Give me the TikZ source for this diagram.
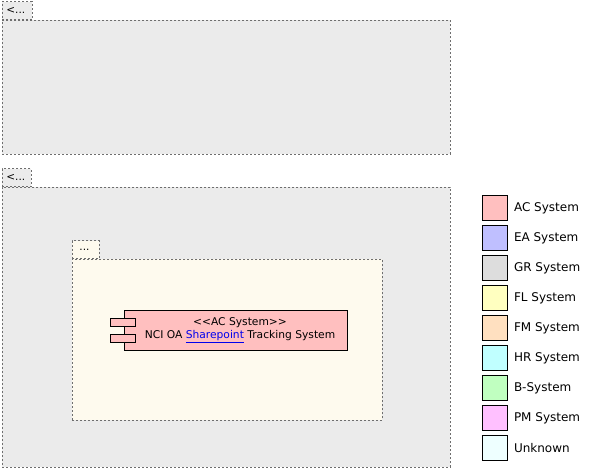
\documentclass[tikz,border=0pt]{standalone}
\usepackage{fontspec}
\setmainfont{DejaVu Sans}
\usepackage{xcolor}
\usepackage{tikz}
\usetikzlibrary{positioning,calc}

\definecolor{pkggray}{RGB}{235,235,235}
\definecolor{pkgcream}{RGB}{254,250,238}
\definecolor{dashgray}{RGB}{110,110,110}
\definecolor{acfill}{RGB}{255,191,191}
\definecolor{eafill}{RGB}{191,191,255}
\definecolor{grfill}{RGB}{221,221,221}
\definecolor{flfill}{RGB}{255,255,192}
\definecolor{fmfill}{RGB}{255,224,192}
\definecolor{hrfill}{RGB}{192,255,255}
\definecolor{bfill}{RGB}{192,255,192}
\definecolor{pmfill}{RGB}{255,192,255}
\definecolor{unkfill}{RGB}{238,255,255}
\definecolor{linkblue}{RGB}{0,0,238}

\begin{document}
\begin{tikzpicture}[x=1pt, y=-1pt,
    pkg/.style={draw=dashgray, dash pattern=on 2pt off 2pt, line width=0.9pt, fill=pkggray, anchor=north west, inner sep=0pt},
    pkgtab/.style={pkg, anchor=south west, minimum height=18pt, inner xsep=4pt, font=\fontsize{10.5}{12}\selectfont, text depth=0pt, align=left},
    compbox/.style={draw, line width=0.8pt, fill=acfill, minimum width=223pt, minimum height=40pt, inner sep=0pt},
    port/.style={draw, line width=0.8pt, fill=acfill, minimum width=25pt, minimum height=8pt, inner sep=0pt},
    legbox/.style={draw, line width=0.8pt, minimum width=25pt, minimum height=25pt, inner sep=0pt, anchor=north west},
    leglabel/.style={inner sep=0pt, font=\fontsize{12}{14}\selectfont}]

    \useasboundingbox (0,0) rectangle (593,471);

    % upper package
    \node[pkg, minimum width=448pt, minimum height=134pt] (pkgA) at (2,20) {};
    \node[pkgtab, minimum width=30pt, text width=22pt] (tabA) at (pkgA.north west) {<...};

    % lower package
    \node[pkg, minimum width=448pt, minimum height=280pt] (pkgB) at (2,187) {};
    \node[pkgtab, minimum width=29pt, text width=21pt] (tabB) at (pkgB.north west) {<...};

    % inner package
    \node[pkg, fill=pkgcream, minimum width=310pt, minimum height=161pt] (pkgC) at (72,259) {};
    \node[pkgtab, fill=pkgcream, minimum width=27pt, text width=19pt] (tabC) at (pkgC.north west) {\hspace{3pt}...};

    % component
    \node[compbox] (nci) at (235.5,330) {};
    \node[font=\fontsize{10.7}{13}\selectfont, align=center] (ncitext) at (240,330)
        {<{}<AC System>{}>\\NCI OA \textcolor{linkblue}{\underline{Sharepoint}} Tracking System};
    \node[port] (portA) at ($(nci.west)+(-1,-8)$) {};
    \node[port] (portB) at ($(nci.west)+(-1,8)$) {};

    % legend
    \foreach \col/\lab [count=\i from 0] in {acfill/AC System, eafill/EA System, grfill/GR System,
        flfill/FL System, fmfill/FM System, hrfill/HR System, bfill/B-System,
        pmfill/PM System, unkfill/Unknown} {
      \node[legbox, fill=\col] (leg\i) at (482,195+30*\i) {};
      \node[leglabel, right=6pt of leg\i] (lab\i) {\lab};
    }
\end{tikzpicture}
\end{document}
